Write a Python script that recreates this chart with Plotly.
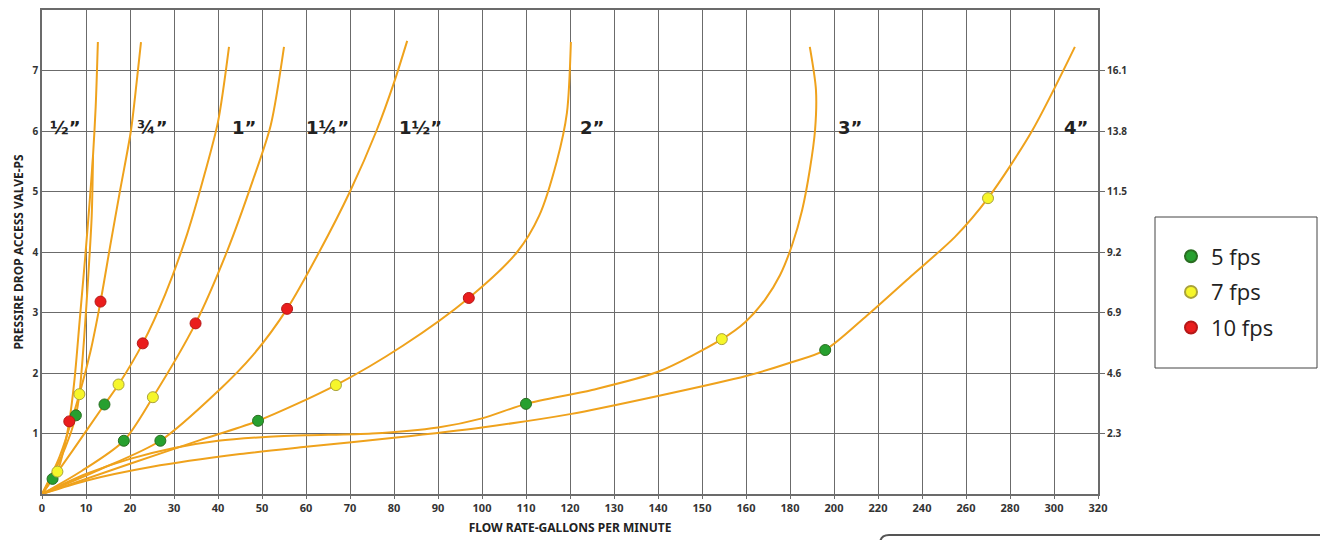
import numpy as np
import plotly.graph_objects as go

# ---------------- data ----------------
X_TICK_GPM = [0, 10, 20, 30, 40, 50, 60, 70, 80, 90, 100, 110, 120, 130, 140, 150, 160,
              180, 200, 220, 240, 260, 280, 300, 320]
Y_TICKS_LEFT = [1, 2, 3, 4, 5, 6, 7]
Y_TICKS_RIGHT = [2.3, 4.6, 6.9, 9.2, 11.5, 13.8, 16.1]

CURVE_NAMES = ["½”", "¾”", "1”", "1¼”", "1½”", "2”", "3”", "4”"]

HALF_GPM = [0, 2.4, 3.5, 5.0, 6.2, 7.4, 8.6, 9.8, 10.8, 11.6, 12.2, 12.7]
HALF_PSI = [0, 0.25, 0.37, 0.75, 1.2, 1.9, 2.9, 3.9, 4.8, 5.6, 6.4, 7.47]
HALF_B_GPM = [0, 4.0, 6.5, 7.7, 8.5, 9.6, 10.6, 11.3, 11.6]
HALF_B_PSI = [0, 0.55, 1.0, 1.3, 1.65, 2.6, 3.7, 4.6, 5.6]
THREE_Q_GPM = [0, 4.0, 8.5, 11.0, 13.3, 15.5, 17.7, 20.2, 21.5, 22.5]
THREE_Q_PSI = [0, 0.62, 1.65, 2.35, 3.18, 4.1, 5.0, 6.0, 6.8, 7.47]
ONE_GPM = [0, 7.0, 14.2, 17.4, 22.9, 28.0, 33.0, 37.0, 40.0, 42.5]
ONE_PSI = [0, 0.72, 1.48, 1.81, 2.49, 3.3, 4.3, 5.3, 6.15, 7.39]
ONE_Q_GPM = [0, 9.0, 18.6, 25.2, 34.9, 42.0, 48.0, 52.0, 55.0]
ONE_Q_PSI = [0, 0.38, 0.88, 1.6, 2.82, 4.0, 5.2, 6.1, 7.39]
ONE_H_GPM = [0, 13.0, 26.9, 40.0, 48.0, 55.7, 63.0, 70.0, 76.0, 80.0, 83.0]
ONE_H_PSI = [0, 0.4, 0.88, 1.7, 2.3, 3.06, 4.0, 5.0, 6.0, 6.8, 7.49]
TWO_GPM = [0, 20.0, 35.9, 49.1, 66.8, 82.0, 97.0, 108.0, 113.0, 117.0, 119.3, 120.2]
TWO_PSI = [0, 0.5, 0.89, 1.21, 1.8, 2.45, 3.24, 4.0, 4.6, 5.5, 6.3, 7.47]
THREE_GPM = [0, 10, 20, 30, 40, 50, 60, 75, 90, 100, 110, 125, 140, 154.5, 159.8, 168.6,
             175.5, 181, 185.5, 189, 191.4, 191.8, 189]
THREE_PSI = [0, 0.33, 0.58, 0.76, 0.88, 0.94, 0.97, 1.0, 1.1, 1.25, 1.49, 1.72, 2.02, 2.56,
             2.84, 3.21, 3.62, 4.12, 4.69, 5.36, 6.02, 6.68, 7.39]
FOUR_GPM = [0, 10, 25, 45, 60, 80, 100, 120, 140, 160, 180, 196, 215, 235, 255, 270, 290, 309.5]
FOUR_PSI = [0, 0.22, 0.45, 0.66, 0.78, 0.93, 1.1, 1.32, 1.62, 1.95, 2.17, 2.38, 2.95, 3.6, 4.25,
            4.89, 6.0, 7.39]

GREEN_GPM = [2.4, 7.7, 14.2, 18.6, 26.9, 49.1, 110, 196]
GREEN_PSI = [0.25, 1.3, 1.48, 0.88, 0.88, 1.21, 1.49, 2.38]
YELLOW_GPM = [3.5, 8.5, 17.4, 25.2, 66.8, 154.5, 270]
YELLOW_PSI = [0.37, 1.65, 1.81, 1.6, 1.8, 2.56, 4.89]
RED_GPM = [6.2, 13.3, 22.9, 34.9, 55.7, 97]
RED_PSI = [1.2, 3.18, 2.49, 2.82, 3.06, 3.24]

# ---------------- helpers ----------------
def gpm_pos(g):
    """Axis scale of the chart: 10 gpm per grid cell up to 160, then 20 gpm per cell."""
    g = np.asarray(g, dtype=float)
    return np.where(g <= 160, g / 10.0, 16 + (g - 160) / 20.0)

ORANGE = "#EFA21C"
GRID = "#6b6b6b"
FONT = "Noto Sans"

fig = go.Figure()

curves = [
    (HALF_GPM, HALF_PSI, CURVE_NAMES[0]),
    (HALF_B_GPM, HALF_B_PSI, CURVE_NAMES[0]),
    (THREE_Q_GPM, THREE_Q_PSI, CURVE_NAMES[1]),
    (ONE_GPM, ONE_PSI, CURVE_NAMES[2]),
    (ONE_Q_GPM, ONE_Q_PSI, CURVE_NAMES[3]),
    (ONE_H_GPM, ONE_H_PSI, CURVE_NAMES[4]),
    (TWO_GPM, TWO_PSI, CURVE_NAMES[5]),
    (THREE_GPM, THREE_PSI, CURVE_NAMES[6]),
    (FOUR_GPM, FOUR_PSI, CURVE_NAMES[7]),
]
for gx, py, nm in curves:
    fig.add_trace(go.Scatter(
        x=gpm_pos(gx), y=py, mode="lines", name=nm, showlegend=False,
        line=dict(color=ORANGE, width=2, shape="spline", smoothing=0.8),
        hoverinfo="skip"))

dots = [
    (GREEN_GPM, GREEN_PSI, "5 fps", "#27a02f", "#2a6e22"),
    (YELLOW_GPM, YELLOW_PSI, "7 fps", "#f6f62a", "#a9a23a"),
    (RED_GPM, RED_PSI, "10 fps", "#ea1d1d", "#b51818"),
]
for gx, py, nm, col, edge in dots:
    fig.add_trace(go.Scatter(
        x=gpm_pos(gx), y=py, mode="markers", name=nm, showlegend=True, legendgroup=nm,
        marker=dict(size=11, color=col, line=dict(color=edge, width=1))))

# dummy trace for right axis
fig.add_trace(go.Scatter(x=[None], y=[None], yaxis="y2", showlegend=False))

# curve labels
label_pos = [0.52, 2.5, 4.6, 6.48, 8.6, 12.5, 18.36, 23.5]
for nm, px in zip(CURVE_NAMES, label_pos):
    fig.add_annotation(x=px, y=6.05, text=f"<b>{nm}</b>", showarrow=False,
                       font=dict(family="DejaVu Sans", size=18, color="#222"),
                       xanchor="center", yanchor="middle")

fig.update_layout(
    width=1320, height=540,
    margin=dict(l=42, r=222, t=10, b=46),
    paper_bgcolor="white", plot_bgcolor="white",
    font=dict(family=FONT, color="#333"),
    xaxis=dict(range=[0, 24], tickvals=gpm_pos(X_TICK_GPM), ticktext=[str(v) for v in X_TICK_GPM],
               showgrid=True, gridcolor=GRID, gridwidth=1.3, zeroline=False, automargin=False,
               showline=True, linecolor=GRID, linewidth=1.5, mirror=True,
               ticks="outside", ticklen=3, tickcolor=GRID,
               tickfont=dict(family=FONT, size=11, color="#333", weight="bold"),
               title=dict(text="<b>FLOW RATE-GALLONS PER MINUTE</b>", standoff=10,
                          font=dict(family=FONT, size=12, color="#222"))),
    yaxis=dict(range=[0, 8], tickvals=Y_TICKS_LEFT, showgrid=True, gridcolor=GRID, gridwidth=1.3,
               zeroline=False, showline=True, linecolor=GRID, linewidth=1.5, mirror=True,
               automargin=False,
               ticks="", tickfont=dict(family=FONT, size=10, color="#333", weight="bold"),
               title=dict(text="<b>PRESSIRE DROP ACCESS VALVE-PS</b>", standoff=6,
                          font=dict(family=FONT, size=12, color="#222"))),
    yaxis2=dict(range=[0, 18.4], tickvals=Y_TICKS_RIGHT, ticktext=[f"{v:.1f}" for v in Y_TICKS_RIGHT],
                overlaying="y", side="right", showgrid=False, zeroline=False, automargin=False,
                ticks="outside", ticklen=6, tickcolor=GRID,
                tickfont=dict(family=FONT, size=10, color="#333", weight="bold")),
    legend=dict(x=(1171 - 42) / 1056, xanchor="left", y=(494 - 292) / 484, yanchor="middle",
                bgcolor="rgba(0,0,0,0)", borderwidth=0, tracegroupgap=4,
                font=dict(family="Open Sans", size=22, color="#222"), itemsizing="constant"),
)

# legend frame
fig.add_shape(type="rect", xref="paper", yref="paper",
              x0=(1155 - 42) / 1056, x1=(1317 - 42) / 1056,
              y0=(494 - 368) / 484, y1=(494 - 217) / 484,
              line=dict(color="#444", width=1), fillcolor="rgba(0,0,0,0)", layer="below")

# cut-off rounded box at the bottom right
x0 = (880 - 42) / 1056
r_x = 9 / 1056
yt = (494 - 535) / 484
r_y = 9 / 484
fig.add_shape(type="path", xref="paper", yref="paper",
              path=f"M {x0},{yt - 0.05} L {x0},{yt - r_y} Q {x0},{yt} {x0 + r_x},{yt} L 1.3,{yt}",
              line=dict(color="#555", width=2))

fig.write_html("out.html", config={"displayModeBar": False})

# remove the default page margin so the figure sits at the top-left corner
with open("out.html", "r", encoding="utf-8") as f:
    html = f.read()
html = html.replace("<head>", "<head><style>html,body{margin:0;padding:0;overflow:hidden;}</style>", 1)
with open("out.html", "w", encoding="utf-8") as f:
    f.write(html)
